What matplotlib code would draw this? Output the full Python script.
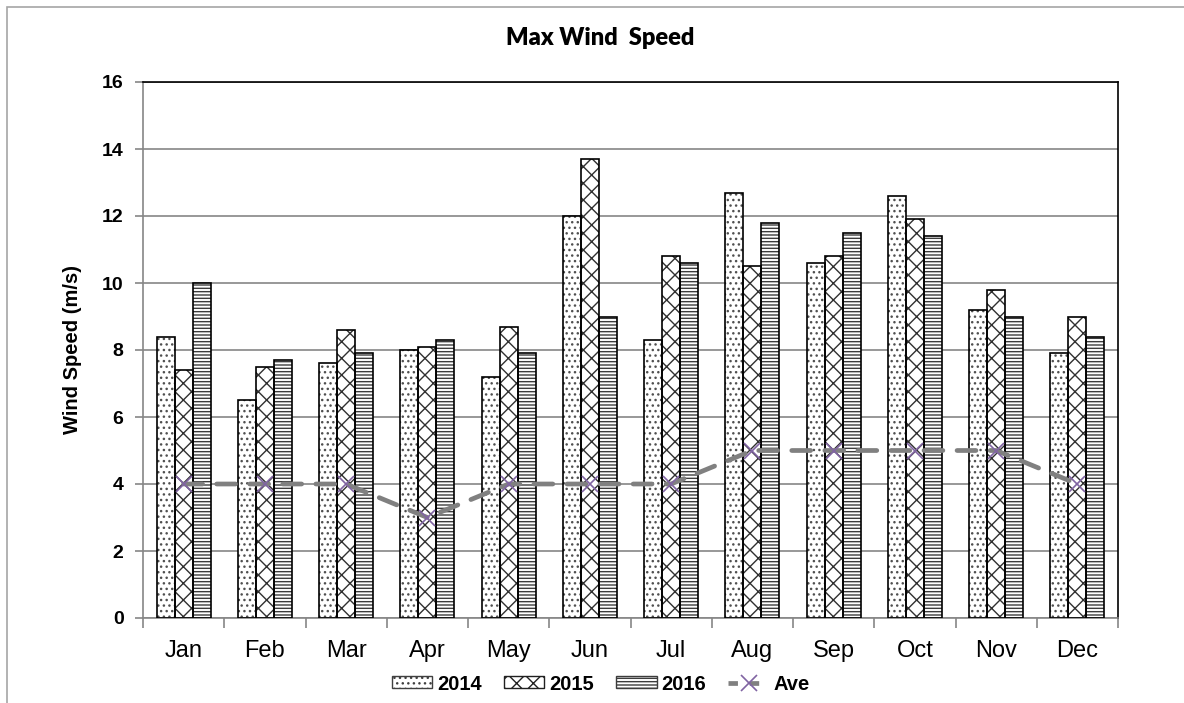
import numpy as np
import matplotlib
matplotlib.use("Agg")
import matplotlib.pyplot as plt
from matplotlib.patches import Rectangle, Patch
from matplotlib.lines import Line2D

months = ["Jan", "Feb", "Mar", "Apr", "May", "Jun", "Jul", "Aug", "Sep", "Oct", "Nov", "Dec"]
wind_2014 = [8.4, 6.5, 7.6, 8.0, 7.2, 12.0, 8.3, 12.7, 10.6, 12.6, 9.2, 7.9]
wind_2015 = [7.4, 7.5, 8.6, 8.1, 8.7, 13.7, 10.8, 10.5, 10.8, 11.9, 9.8, 9.0]
wind_2016 = [10.0, 7.7, 7.9, 8.3, 7.9, 9.0, 10.6, 11.8, 11.5, 11.4, 9.0, 8.4]
wind_ave = [4, 4, 4, 3, 4, 4, 4, 5, 5, 5, 5, 4]

plt.rcParams["font.family"] = ["Liberation Sans", "DejaVu Sans"]
plt.rcParams["hatch.linewidth"] = 1.0

fig = plt.figure(figsize=(11.84, 7.03), dpi=100)
ax = fig.add_axes([143 / 1184, 85 / 703, 975 / 1184, 536 / 703])

# chart border (cut off at right and bottom)
fig.patches.append(Rectangle((7 / 1184, -0.1), 1.2, (703 - 7) / 703 + 0.1,
                             transform=fig.transFigure, fill=False,
                             edgecolor="#a6a6a6", linewidth=1.2, zorder=0))

x = np.arange(len(months))
w = 0.222
series = [
    (wind_2014, -w, "...", "#505050"),
    (wind_2015, 0, "xx", "#303030"),
    (wind_2016, w, "-----", "#3c3c3c"),
]
for vals, off, hatch, hcol in series:
    ax.bar(x + off, vals, w, color="white", edgecolor=hcol, hatch=hatch,
           linewidth=0, zorder=2)
    ax.bar(x + off, vals, w, color="none", edgecolor="black",
           linewidth=1.2, zorder=3)

ax.plot(x, wind_ave, color="#808080", linewidth=3.4, dashes=(4, 3),
        dash_capstyle="round", zorder=4)
ax.plot(x, wind_ave, linestyle="none", marker="x", markersize=11,
        markeredgewidth=1.2, color="#8064a2", zorder=5)

ax.set_xlim(-0.5, 11.5)
ax.set_ylim(0, 16)
ax.set_yticks(np.arange(0, 17, 2))
ax.yaxis.grid(True, color="#868686", linewidth=1.2, zorder=0)
ax.set_axisbelow(True)

ax.set_xticks(x)
ax.set_xticklabels(months, fontsize=17)
ax.set_xticks(np.arange(-0.5, 12, 1), minor=True)
ax.tick_params(axis="x", which="major", length=0, pad=16)
ax.tick_params(axis="x", which="minor", length=7, color="#868686", width=1.2)
ax.tick_params(axis="y", length=6, color="#868686", width=1.2, pad=8, labelsize=14)
for lbl in ax.get_yticklabels():
    lbl.set_fontweight("bold")

for side in ["left", "bottom"]:
    ax.spines[side].set_color("#868686")
    ax.spines[side].set_linewidth(1.2)
for side in ["top", "right"]:
    ax.spines[side].set_color("black")
    ax.spines[side].set_linewidth(1.2)

ax.set_ylabel("Wind Speed (m/s)", fontsize=14.5, fontweight="bold", labelpad=14)
fig.text(600 / 1184, 1 - 38 / 703, "Max Wind  Speed", ha="center", va="center",
         fontsize=17, fontweight="heavy", family=["Lato", "DejaVu Sans"])

handles = [
    Patch(facecolor="white", edgecolor="#404040", hatch="...", linewidth=1),
    Patch(facecolor="white", edgecolor="#202020", hatch="xx", linewidth=1),
    Patch(facecolor="white", edgecolor="#3c3c3c", hatch="-----", linewidth=1),
    Line2D([], [], color="#808080", linewidth=3.4, dashes=(2, 2.5),
           marker="x", markersize=11, markeredgewidth=1.2,
           markeredgecolor="#8064a2"),
]
fig.legend(handles, ["2014", "2015", "2016", "Ave"], loc="center",
           bbox_to_anchor=(601 / 1184, 19 / 703), ncol=4, frameon=False,
           prop={"weight": "bold", "size": 14.5}, handlelength=2.0,
           handleheight=0.55, handletextpad=0.25, columnspacing=1.1)

fig.savefig("out.png", dpi=100)
